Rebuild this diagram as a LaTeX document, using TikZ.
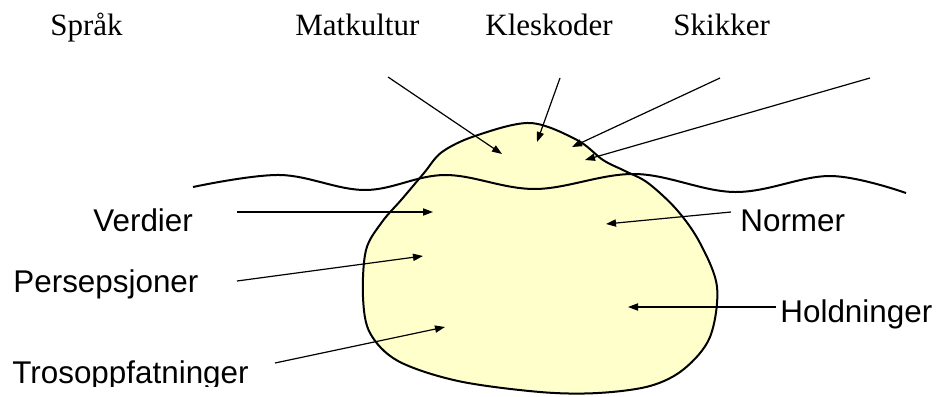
\documentclass[tikz,border=0pt]{standalone}
\usepackage{fontspec}
\setmainfont{Liberation Serif}
\setsansfont{Liberation Sans}
\usepackage{tikz}
\usetikzlibrary{positioning,arrows.meta}
\definecolor{isfill}{RGB}{255,255,204}
\tikzset{
  ptr/.style={-{Triangle[length=5pt,width=3.6pt]},line width=0.6pt},
  blob/.style={draw=black,fill=isfill,line width=1pt},
  wave/.style={line width=1pt},
  toplbl/.style={font=\fontsize{15.5}{18}\selectfont,inner sep=0pt,anchor=base west},
  lbl/.style={font=\sffamily\fontsize{15.7}{18}\selectfont,inner sep=0pt,anchor=base west},
}
\begin{document}
\begin{tikzpicture}[x=0.5pt,y=-0.5pt]
  \useasboundingbox (0,0) rectangle (936,396);
  % the iceberg
  \draw[blob] plot[smooth cycle,tension=0.55] coordinates {
    (530,123) (577,140) (603,160) (625,171) (648,183) (677,210) (700,243)
    (717,287) (710,337) (684,369) (650,386) (598,393) (540,392) (458,381)
    (398,361) (370,333) (363,297) (366,250) (382,222) (402,199) (424,173)
    (442,152) (475,136)};
  % water line
  \draw[wave] plot[smooth,tension=0.6] coordinates {
    (193,187) (280,175) (365,190) (445,175) (535,189) (635,174)
    (735,192) (830,176) (906,193)};
  % labels above the water
  \node[toplbl] (sprak) at (50,35) {Språk};
  \node[toplbl] (mat) at (295,35) {Matkultur};
  \node[toplbl] (kles) at (485,35) {Kleskoder};
  \node[toplbl] (skikk) at (673,35) {Skikker};
  % labels below the water
  \node[lbl] (verdi) at (93,231) {Verdier};
  \node[lbl] (norm) at (740,231) {Normer};
  \node[lbl] (pers) at (13,292) {Persepsjoner};
  \node[lbl] (hold) at (780,322) {Holdninger};
  \begin{scope}
    \clip (0,0) rectangle (300,386);
    \node[lbl] (tro) at (12,383) {Trosoppfatninger};
  \end{scope}
  % pointers into the iceberg
  \foreach \nm/\tx/\ty/\hx/\hy in {a/388/77/502/154, b/560/78/537/142,
      c/720/78/572/147, d/870/78/585/160, e/237/212/433/212,
      f/731/212/606/224, g/237/281/423/256, h/776/307/628/307,
      i/275/363/445/327}{
    \coordinate (from\nm) at (\tx,\ty);
    \coordinate (to\nm) at (\hx,\hy);
    \draw[ptr] (from\nm) -- (to\nm);
  }
\end{tikzpicture}
\end{document}
